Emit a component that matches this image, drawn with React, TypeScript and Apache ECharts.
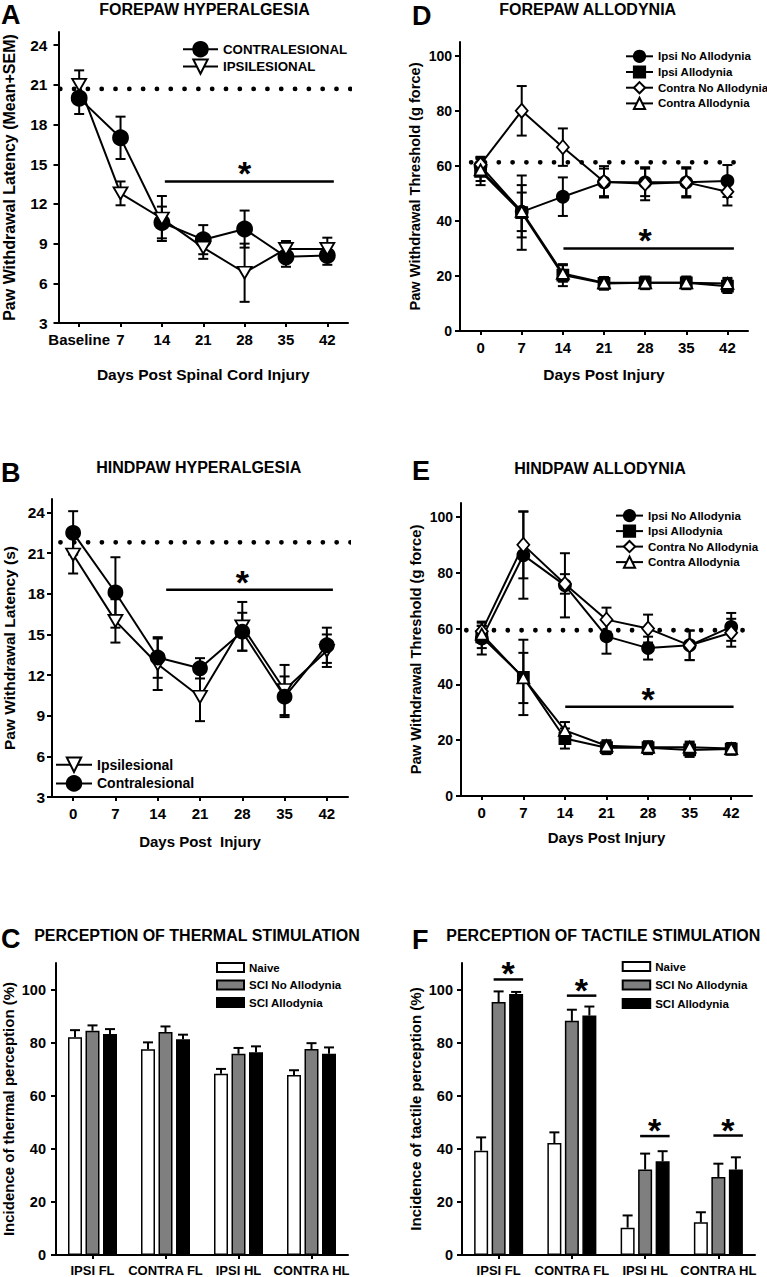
import React, { useEffect, useRef } from "react";
import * as echarts from "echarts";

const FONT = '"Liberation Sans", Arial, Helvetica, sans-serif';

const days = [0, 7, 14, 21, 28, 35, 42];

// Panel A - forepaw hyperalgesia
const aContra = [20.0, 17.0, 10.6, 9.3, 10.1, 8.0, 8.1];
const aContraErr = [1.2, 1.6, 1.2, 1.1, 1.4, 0.75, 0.7];
const aIpsi = [21.0, 12.8, 10.9, 8.7, 6.8, 8.6, 8.6];
const aIpsiErr = [1.1, 0.9, 1.7, 0.85, 2.2, 0.6, 0.85];
const aBaseline = 20.7;
const aBaselineSpan = [-3.2, 46.6];
const aSig = [14.5, 43.1, 13.7, 28];
const hyperYTicks = [3, 6, 9, 12, 15, 18, 21, 24];

// Panel B - hindpaw hyperalgesia
const bIpsi = [20.9, 16.0, 12.8, 10.4, 15.6, 10.9, 13.8];
const bIpsiErr = [1.4, 1.6, 1.9, 1.8, 1.8, 1.85, 1.2];
const bContra = [22.5, 18.1, 13.3, 12.5, 15.2, 10.4, 14.2];
const bContraErr = [1.6, 2.6, 1.5, 0.75, 1.4, 1.5, 1.3];
const bBaseline = 21.8;
const bBaselineSpan = [-2.1, 50.6];
const bSig = [15.4, 43.0, 18.3, 28];

// Panel D - forepaw allodynia
const dIpsiNo = [60, 43.3, 48.8, 54, 54, 54, 54.5];
const dIpsiNoErr = [3.3, 7, 7, 5, 5, 5, 5.8];
const dIpsiAl = [58, 43, 20.3, 17.3, 17.5, 17.5, 16.3];
const dIpsiAlErr = [5, 13.5, 4, 2.3, 2.3, 2.3, 2.5];
const dContraNo = [60.5, 80, 66.8, 54.2, 53.5, 54, 50.6];
const dContraNoErr = [2.5, 9, 6.8, 5.7, 6, 5.5, 5];
const dContraAl = [58.5, 43.5, 20.9, 17.5, 17.5, 17.5, 17.3];
const dContraAlErr = [4, 9.5, 3, 2, 2, 2, 2];
const dBaseline = 61.3;
const dBaselineSpan = [-1.6, 43.5];
const dSig = [14.1, 43.1, 30, 28];

// Panel E - hindpaw allodynia
const eIpsiNo = [56.4, 86.3, 75.5, 57.2, 53, 54, 60.6];
const eIpsiNoErr = [5.7, 15.6, 11.5, 6.2, 4.1, 5.3, 5];
const eIpsiAl = [57, 42.5, 20.6, 17.3, 17.3, 16.5, 16.8];
const eIpsiAlErr = [4, 13.5, 3.6, 2.3, 2.3, 2.5, 2];
const eContraNo = [59, 90, 76, 63.2, 60, 54, 58.5];
const eContraNoErr = [3.5, 12, 3.5, 4.3, 5, 5.3, 5];
const eContraAl = [58, 42.3, 23.5, 18, 17.5, 17.5, 17];
const eContraAlErr = [3, 9, 3, 2, 2, 2, 2];
const eBaseline = 59.4;
const eBaselineSpan = [-2.6, 44.3];
const eSig = [14.05, 42.4, 32, 28];
const alloYTicks = [0, 20, 40, 60, 80, 100];

// Panels C & F - perception
const cats = ["IPSI FL", "CONTRA FL", "IPSI HL", "CONTRA HL"];
const cNaive = [82, 77.5, 68.3, 67.8];
const cNaiveErr = [2.7, 2.6, 1.8, 1.8];
const cNoAllo = [84.5, 84, 75.8, 77.6];
const cNoAlloErr = [2, 2.1, 2.2, 2.2];
const cAllo = [83.3, 81.3, 76.4, 75.8];
const cAlloErr = [1.8, 1.7, 2.2, 2.4];

const fNaive = [39.3, 42.2, 10.3, 12.3];
const fNaiveErr = [5, 4, 4.6, 3.8];
const fNoAllo = [95.3, 88.2, 32.2, 29.4];
const fNoAlloErr = [4, 4.2, 6, 5];
const fAllo = [98.3, 90.2, 35.3, 32.2];
const fAlloErr = [0.8, 3.4, 3.8, 4.6];
const fSigLevels = [103.8, 97.7, 44.8, 45];
const pctYTicks = [0, 20, 40, 60, 80, 100];

const TRI_DOWN = "path://M0,0L12,0L6,10.4Z";
const BAR_W = 14;
const BAR_STEP = 17.5;

const bold = (size: number) => ({
  fontSize: size,
  fontWeight: "bold" as const,
  fontFamily: FONT,
  color: "#000",
});

function xValAxis(idx: number, nameText: string, nameGap: number, nameSize: number, labelFmt?: (v: number) => string) {
  return {
    type: "value",
    gridIndex: idx,
    min: -3.5,
    max: 45.5,
    splitLine: { show: false },
    axisLine: { show: true, onZero: false, lineStyle: { color: "#000", width: 2 } },
    axisTick: { show: true, length: 4, customValues: days, lineStyle: { color: "#000", width: 2 } },
    axisLabel: {
      customValues: days,
      margin: 9,
      ...bold(15),
      formatter: labelFmt ? labelFmt : (v: number) => String(v),
    },
    name: nameText,
    nameLocation: "middle",
    nameGap,
    nameTextStyle: bold(nameSize),
  };
}

function yValAxis(idx: number, min: number, max: number, ticks: number[], labelSize: number, margin: number, nameText: string, nameGap: number, nameSize: number) {
  return {
    type: "value",
    gridIndex: idx,
    min,
    max,
    splitLine: { show: false },
    axisLine: { show: true, onZero: false, lineStyle: { color: "#000", width: 2 } },
    axisTick: { show: true, length: 5, customValues: ticks, lineStyle: { color: "#000", width: 2 } },
    axisLabel: { customValues: ticks, margin, ...bold(labelSize) },
    name: nameText,
    nameLocation: "middle",
    nameRotate: 90,
    nameGap,
    nameTextStyle: bold(nameSize),
  };
}

function xCatAxis(idx: number) {
  return {
    type: "category",
    gridIndex: idx,
    data: cats,
    axisLine: { show: true, onZero: false, lineStyle: { color: "#000", width: 2 } },
    axisTick: { show: true, alignWithLabel: true, length: 4, lineStyle: { color: "#000", width: 2 } },
    axisLabel: { margin: 9, ...bold(13), interval: 0 },
  };
}

function lineSeries(name: string, idx: number, vals: number[], symbol: string, size: any, filled: boolean) {
  return {
    type: "line",
    name,
    xAxisIndex: idx,
    yAxisIndex: idx,
    data: days.map((d, i) => [d, vals[i]]),
    symbol,
    symbolSize: size,
    showSymbol: true,
    showAllSymbol: true,
    lineStyle: { color: "#000", width: 2 },
    itemStyle: { color: filled ? "#000" : "#fff", borderColor: "#000", borderWidth: 1.8 },
    z: 4,
    silent: true,
    emphasis: { disabled: true },
  };
}

function errSeries(idx: number, vals: number[], errs: number[]) {
  return {
    type: "custom",
    xAxisIndex: idx,
    yAxisIndex: idx,
    data: days.map((d, i) => [d, vals[i], errs[i]]),
    encode: { x: 0, y: 1 },
    z: 3,
    silent: true,
    clip: false,
    renderItem: (params: any, api: any) => {
      const x = api.value(0);
      const m = api.value(1);
      const e = api.value(2);
      const t = api.coord([x, m + e]);
      const b = api.coord([x, m - e]);
      const w = 5;
      const st = { stroke: "#000", lineWidth: 2 };
      return {
        type: "group",
        children: [
          { type: "line", shape: { x1: t[0], y1: t[1], x2: b[0], y2: b[1] }, style: st },
          { type: "line", shape: { x1: t[0] - w, y1: t[1], x2: t[0] + w, y2: t[1] }, style: st },
          { type: "line", shape: { x1: b[0] - w, y1: b[1], x2: b[0] + w, y2: b[1] }, style: st },
        ],
      };
    },
  };
}

function dottedSeries(idx: number, level: number, span: number[]) {
  return {
    type: "line",
    xAxisIndex: idx,
    yAxisIndex: idx,
    data: [
      [span[0], level],
      [span[1], level],
    ],
    symbol: "none",
    clip: false,
    silent: true,
    z: 1,
    lineStyle: { color: "#000", width: 4.8, type: [0.01, 13.8], cap: "round" },
  };
}

function starText(x: number, y: number) {
  return {
    type: "text",
    style: {
      text: "*",
      x,
      y,
      fill: "#000",
      font: `bold 34px ${FONT}`,
      textAlign: "center",
      textVerticalAlign: "middle",
    },
  };
}

function sigSeries(idx: number, sig: number[]) {
  return {
    type: "custom",
    xAxisIndex: idx,
    yAxisIndex: idx,
    dimensions: ["x0", "x1", "y", "xs"],
    data: [sig],
    encode: { x: ["x0", "x1", "xs"], y: "y" },
    z: 3,
    silent: true,
    clip: false,
    renderItem: (params: any, api: any) => {
      const p0 = api.coord([api.value(0), api.value(2)]);
      const p1 = api.coord([api.value(1), api.value(2)]);
      const ps = api.coord([api.value(3), api.value(2)]);
      return {
        type: "group",
        children: [
          { type: "line", shape: { x1: p0[0], y1: p0[1], x2: p1[0], y2: p1[1] }, style: { stroke: "#000", lineWidth: 2.5 } },
          starText(ps[0], ps[1] - 8),
        ],
      };
    },
  };
}

function barSeries(name: string, idx: number, vals: number[], color: string) {
  return {
    type: "bar",
    name,
    xAxisIndex: idx,
    yAxisIndex: idx,
    data: vals,
    barWidth: BAR_W,
    barGap: "25%",
    itemStyle: { color, borderColor: "#000", borderWidth: 1.5 },
    silent: true,
    z: 2,
  };
}

function barErrSeries(idx: number, vals: number[], errs: number[], offset: number) {
  return {
    type: "custom",
    xAxisIndex: idx,
    yAxisIndex: idx,
    data: vals.map((v, i) => [i, v, errs[i]]),
    encode: { x: 0, y: 1 },
    z: 3,
    silent: true,
    clip: false,
    renderItem: (params: any, api: any) => {
      const c = api.value(0);
      const v = api.value(1);
      const e = api.value(2);
      const b = api.coord([c, v]);
      const t = api.coord([c, v + e]);
      const x = b[0] + offset;
      const st = { stroke: "#000", lineWidth: 2 };
      return {
        type: "group",
        children: [
          { type: "line", shape: { x1: x, y1: b[1], x2: x, y2: t[1] }, style: st },
          { type: "line", shape: { x1: x - 5, y1: t[1], x2: x + 5, y2: t[1] }, style: st },
        ],
      };
    },
  };
}

function barSigSeries(idx: number, levels: number[]) {
  return {
    type: "custom",
    xAxisIndex: idx,
    yAxisIndex: idx,
    data: levels.map((v, i) => [i, v]),
    encode: { x: 0, y: 1 },
    z: 3,
    silent: true,
    clip: false,
    renderItem: (params: any, api: any) => {
      const p = api.coord([api.value(0), api.value(1)]);
      return {
        type: "group",
        children: [
          { type: "line", shape: { x1: p[0] - 5, y1: p[1], x2: p[0] + 24.5, y2: p[1] }, style: { stroke: "#000", lineWidth: 2.5 } },
          starText(p[0] + 9.5, p[1] - 6),
        ],
      };
    },
  };
}

function legend(left: number, top: number, names: string[], iw: number, ih: number, gap: number, fs: number, icon?: string) {
  const l: any = {
    orient: "vertical",
    left,
    top,
    padding: 0,
    itemWidth: iw,
    itemHeight: ih,
    itemGap: gap,
    selectedMode: false,
    data: names,
    textStyle: bold(fs),
  };
  if (icon) l.icon = icon;
  return l;
}

function titleText(text: string, x: number, y: number, size: number) {
  return {
    type: "text",
    style: {
      text,
      x,
      y,
      fill: "#000",
      font: `bold ${size}px ${FONT}`,
      textAlign: "center",
      textVerticalAlign: "middle",
    },
  };
}

function letterText(text: string, x: number, y: number) {
  return {
    type: "text",
    style: {
      text,
      x,
      y,
      fill: "#000",
      font: `bold 27px ${FONT}`,
      textAlign: "left",
      textVerticalAlign: "middle",
    },
  };
}

const alloNames = ["Ipsi No Allodynia", "Ipsi Allodynia", "Contra No Allodynia", "Contra Allodynia"];
const barNames = ["Naive", "SCI No Allodynia", "SCI Allodynia"];

export default function App() {
  const ref = useRef<HTMLDivElement>(null);

  useEffect(() => {
    if (!ref.current) return;
    const chart = echarts.init(ref.current, undefined, { renderer: "svg" });

    // grid indices: 0 A, 1 B, 2 C, 3 D, 4 E, 5 F
    const option: any = {
      animation: false,
      backgroundColor: "#fff",
      textStyle: { fontFamily: FONT },
      grid: [
        { left: 58, top: 32, width: 290, height: 291 },
        { left: 50, top: 499, width: 298, height: 298 },
        { left: 56, top: 963, width: 292, height: 293 },
        { left: 460, top: 42, width: 288, height: 289 },
        { left: 461, top: 503, width: 291, height: 293 },
        { left: 462, top: 963, width: 293, height: 293 },
      ],
      xAxis: [
        xValAxis(0, "Days Post Spinal Cord Injury", 43, 15.5, (v: number) => (v === 0 ? "Baseline" : String(v))),
        xValAxis(1, "Days Post  Injury", 37, 15),
        xCatAxis(2),
        xValAxis(3, "Days Post Injury", 35, 15.5),
        xValAxis(4, "Days Post Injury", 33.5, 15),
        xCatAxis(5),
      ],
      yAxis: [
        yValAxis(0, 3, 25, hyperYTicks, 15.5, 11, "Paw Withdrawal Latency (Mean+SEM)", 41.5, 16),
        yValAxis(1, 3, 25, hyperYTicks, 15.5, 7, "Paw Withdrawal Latency (s)", 35, 15.5),
        yValAxis(2, 0, 110, pctYTicks, 14.5, 10, "Incidence of thermal perception (%)", 40, 15),
        yValAxis(3, 0, 105, alloYTicks, 14, 8, "Paw Withdrawal Threshold (g force)", 37.5, 14.6),
        yValAxis(4, 0, 105, alloYTicks, 14, 8, "Paw Withdrawal Threshold (g force)", 38, 14.7),
        yValAxis(5, 0, 110, pctYTicks, 14.5, 9, "Incidence of tactile perception (%)", 39, 15),
      ],
      legend: [
        legend(182, 41, ["CONTRALESIONAL", "IPSILESIONAL"], 35, 18, 1, 13.3),
        legend(55, 756.5, ["Ipsilesional", "Contralesional"], 36, 18, 2.3, 14),
        legend(216, 961.5, barNames, 27, 9, 5.5, 11.5, "rect"),
        legend(625, 49.7, alloNames, 27, 14, 2.5, 11.5),
        legend(615, 509, alloNames, 27, 14, 2.3, 11.5),
        legend(621.7, 960.5, barNames, 27.5, 9, 6.5, 11.5, "rect"),
      ],
      graphic: [
        letterText("A", 1, 14.5),
        titleText("FOREPAW HYPERALGESIA", 204.5, 9, 16),
        letterText("D", 412, 15.5),
        titleText("FOREPAW ALLODYNIA", 587.7, 9.5, 16),
        letterText("B", 1, 472.5),
        titleText("HINDPAW HYPERALGESIA", 198.7, 467.5, 16),
        letterText("E", 412, 471),
        titleText("HINDPAW ALLODYNIA", 600, 468.3, 16),
        letterText("C", 1, 939),
        titleText("PERCEPTION OF THERMAL STIMULATION", 197, 935.8, 16),
        letterText("F", 412, 940),
        titleText("PERCEPTION OF TACTILE STIMULATION", 603.3, 935, 16),
      ],
      series: [
        // A
        dottedSeries(0, aBaseline, aBaselineSpan),
        errSeries(0, aContra, aContraErr),
        errSeries(0, aIpsi, aIpsiErr),
        lineSeries("CONTRALESIONAL", 0, aContra, "circle", 15, true),
        lineSeries("IPSILESIONAL", 0, aIpsi, TRI_DOWN, [14, 12], false),
        sigSeries(0, aSig),
        // B
        dottedSeries(1, bBaseline, bBaselineSpan),
        errSeries(1, bIpsi, bIpsiErr),
        errSeries(1, bContra, bContraErr),
        lineSeries("Ipsilesional", 1, bIpsi, TRI_DOWN, [14, 12], false),
        lineSeries("Contralesional", 1, bContra, "circle", 14, true),
        sigSeries(1, bSig),
        // C
        barSeries("Naive", 2, cNaive, "#fff"),
        barSeries("SCI No Allodynia", 2, cNoAllo, "#7f7f7f"),
        barSeries("SCI Allodynia", 2, cAllo, "#000"),
        barErrSeries(2, cNaive, cNaiveErr, -BAR_STEP),
        barErrSeries(2, cNoAllo, cNoAlloErr, 0),
        barErrSeries(2, cAllo, cAlloErr, BAR_STEP),
        // D
        dottedSeries(3, dBaseline, dBaselineSpan),
        errSeries(3, dIpsiNo, dIpsiNoErr),
        errSeries(3, dIpsiAl, dIpsiAlErr),
        errSeries(3, dContraNo, dContraNoErr),
        errSeries(3, dContraAl, dContraAlErr),
        lineSeries("Ipsi No Allodynia", 3, dIpsiNo, "circle", 12, true),
        lineSeries("Ipsi Allodynia", 3, dIpsiAl, "rect", 11, true),
        lineSeries("Contra No Allodynia", 3, dContraNo, "diamond", [12, 14], false),
        lineSeries("Contra Allodynia", 3, dContraAl, "triangle", [12, 11], false),
        sigSeries(3, dSig),
        // E
        dottedSeries(4, eBaseline, eBaselineSpan),
        errSeries(4, eIpsiNo, eIpsiNoErr),
        errSeries(4, eIpsiAl, eIpsiAlErr),
        errSeries(4, eContraNo, eContraNoErr),
        errSeries(4, eContraAl, eContraAlErr),
        lineSeries("Ipsi No Allodynia", 4, eIpsiNo, "circle", 12, true),
        lineSeries("Ipsi Allodynia", 4, eIpsiAl, "rect", 11, true),
        lineSeries("Contra No Allodynia", 4, eContraNo, "diamond", [12, 14], false),
        lineSeries("Contra Allodynia", 4, eContraAl, "triangle", [12, 11], false),
        sigSeries(4, eSig),
        // F
        barSeries("Naive", 5, fNaive, "#fff"),
        barSeries("SCI No Allodynia", 5, fNoAllo, "#7f7f7f"),
        barSeries("SCI Allodynia", 5, fAllo, "#000"),
        barErrSeries(5, fNaive, fNaiveErr, -BAR_STEP),
        barErrSeries(5, fNoAllo, fNoAlloErr, 0),
        barErrSeries(5, fAllo, fAlloErr, BAR_STEP),
        barSigSeries(5, fSigLevels),
      ],
    };

    chart.setOption(option);
    return () => {
      chart.dispose();
    };
  }, []);

  return (
    <div
      ref={ref}
      style={{ position: "absolute", left: 0, top: 0, width: 767, height: 1277, background: "#fff" }}
    />
  );
}
